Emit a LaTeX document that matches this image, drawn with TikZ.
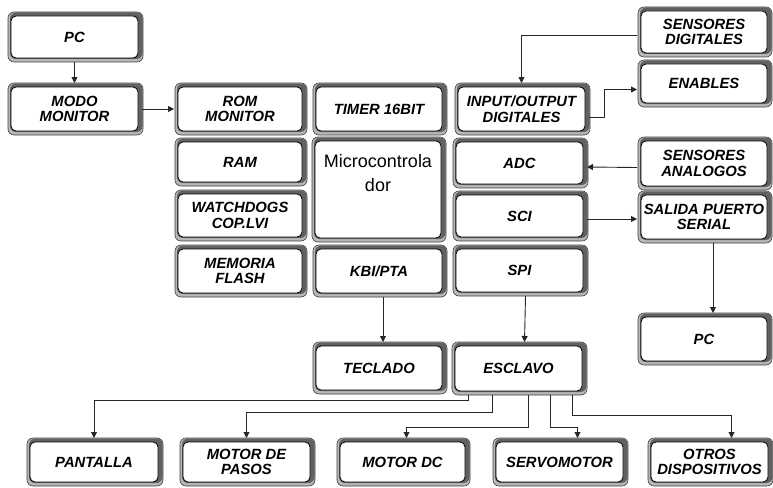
\documentclass[tikz,border=0pt]{standalone}
\usepackage{fontspec}
\setmainfont{Liberation Sans}
\usetikzlibrary{arrows.meta,calc}
\tikzset{
 boxlight/.style={fill=black!28, draw=black!75, line width=0.6pt, rounded corners=6pt},
 boxdark/.style={fill=black!62, rounded corners=6pt},
 boxinner/.style={fill=white, draw=black, line width=0.8pt, rounded corners=5pt, outer sep=4pt, inner sep=1pt, align=center, font=\bfseries\itshape\fontsize{14.8}{15.5}\selectfont},
 conn/.style={draw=black!85, line width=0.9pt},
 arr/.style={conn, -{Triangle[length=6pt,width=6pt]}},
}
\newcommand\DBox[6]{%
 \pgfmathsetmacro\bxw{#4-#2-8}%
 \pgfmathsetmacro\bxh{#5-#3-8}%
 \path[boxlight] (#2,#3) rectangle (#4,#5);
 \path[boxdark] (#2+2,#3+0.5) rectangle (#4-0.5,#5-3);
 \node[boxinner, minimum width=\bxw pt, minimum height=\bxh pt] (#1) at ({(#2+#4)/2-1},{(#3+#5)/2}) {#6};
}
\begin{document}
\begin{tikzpicture}[x=1pt,y=-1pt]
\useasboundingbox (0,0) rectangle (773,487);
\DBox{pcA}{8}{12}{143}{62}{PC}
\DBox{modo}{8}{83}{143}{135}{MODO\\MONITOR}
\DBox{rom}{175}{83}{307}{135}{ROM\\MONITOR}
\DBox{timer}{313}{83}{447}{135}{TIMER 16BIT}
\DBox{io}{455}{83}{590}{135}{INPUT/OUTPUT\\DIGITALES}
\DBox{sdig}{638}{7}{772}{57}{SENSORES\\DIGITALES}
\DBox{enab}{638}{60}{772}{107}{ENABLES}
\DBox{ram}{175}{138}{307}{186}{RAM}
\DBox{wd}{175}{190}{307}{241}{WATCHDOGS\\COP.LVI}
\DBox{mem}{175}{245}{307}{297}{MEMORIA\\FLASH}
\DBox{micro}{312}{137}{446}{242}{}
\node[anchor=north, inner sep=0pt, align=center, font=\fontsize{18}{24}\selectfont] (mtext) at ([yshift=-17pt]micro.north) {Microcontrola\\dor};
\DBox{kbi}{313}{245}{447}{297}{KBI/PTA}
\DBox{adc}{453}{138}{588}{188}{ADC}
\DBox{sci}{453}{191}{588}{241}{SCI}
\DBox{spi}{453}{245}{588}{296}{SPI}
\DBox{sana}{638}{137}{772}{190}{SENSORES\\ANALOGOS}
\DBox{sal}{638}{191}{772}{243}{SALIDA PUERTO\\SERIAL}
\DBox{pcB}{638}{313}{772}{365}{PC}
\DBox{tec}{313}{342}{447}{394}{TECLADO}
\DBox{esc}{452}{342}{587}{395}{ESCLAVO}
\DBox{pan}{27}{438}{163}{486}{PANTALLA}
\DBox{mpas}{180}{438}{315}{486}{MOTOR DE\\PASOS}
\DBox{mdc}{337}{438}{470}{486}{MOTOR DC}
\DBox{servo}{493}{438}{628}{486}{SERVOMOTOR}
\DBox{otros}{648}{438}{773}{486}{OTROS\\DISPOSITIVOS}
% connectors
\draw[arr] (pcA.south) -- (modo.north);
\draw[arr] (modo.east) -- (rom.west);
\draw[arr] ([yshift=-3pt]sdig.west) -| (io.north);
\draw[arr] ([yshift=-8pt]io.east) -- ++(15,0) |- ([yshift=-6pt]enab.west);
\draw[arr] ([yshift=-4pt]sana.west) -- ([yshift=-4pt]adc.east);
\draw[arr] ([yshift=-3pt]sci.east) -- ([yshift=-3pt]sci.east -| sal.west);
\draw[arr] ([xshift=9pt]sal.south) -- ([xshift=9pt]pcB.north);
\draw[arr] ([xshift=4pt]kbi.south) -- ([xshift=4pt]tec.north);
\draw[arr] ([xshift=6pt]spi.south) -- ([xshift=6pt]esc.north);
\draw[arr] ([xshift=-50pt]esc.south) -- ++(0,5) -| (pan.north);
\draw[arr] ([xshift=-26pt]esc.south) -- ++(0,17) -| (mpas.north);
\draw[arr] ([xshift=10pt]esc.south) -- ++(0,32) -| ([xshift=4pt]mdc.north);
\draw[arr] ([xshift=32pt]esc.south) -- ++(0,32) -| ([xshift=18pt]servo.north);
\draw[arr] ([xshift=54pt]esc.south) -- ++(0,20) -| ([xshift=22pt]otros.north);
\end{tikzpicture}
\end{document}
